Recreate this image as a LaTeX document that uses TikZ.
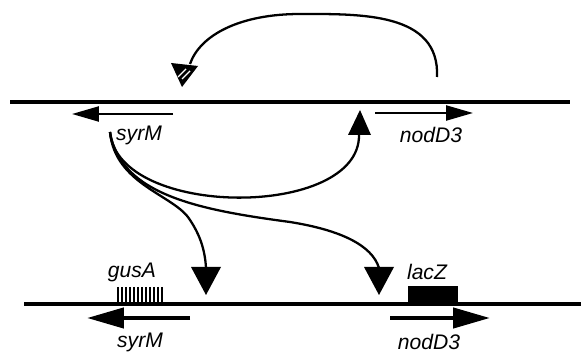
\documentclass[tikz,border=0pt]{standalone}
\usepackage{fontspec}
\setmainfont{Liberation Sans}
\usetikzlibrary{arrows.meta}
\begin{document}
\begin{tikzpicture}[x=0.02cm,y=-0.02cm,
  dna/.style={line width=2.1pt},
  reg/.style={line width=1.3pt},
  genetop/.style={line width=1.3pt,-{Triangle[length=0.54cm,width=0.3cm]}},
  genebot/.style={line width=2.5pt,-{Triangle[length=0.74cm,width=0.4cm]}},
  lbl/.style={font=\fontsize{12}{14}\selectfont\itshape,inner sep=0pt},
  head/.style={fill=black}]
\useasboundingbox (0,0) rectangle (581,354);
% DNA lines
\coordinate (t1) at (10,102); \coordinate (t2) at (570,102);
\coordinate (b1) at (24,304); \coordinate (b2) at (581,304);
\draw[dna] (t1) -- (t2);
\draw[dna] (b1) -- (b2);
% top genes
\coordinate (sa) at (173,114); \coordinate (sb) at (72,114);
\coordinate (na) at (375,113); \coordinate (nb) at (473,113);
\draw[genetop] (sa) -- (sb);
\draw[genetop] (na) -- (nb);
\node[lbl] (syrMt) at (139,135) {syrM};
\node[lbl] (nodDt) at (431,135) {nodD3};
% bottom genes
\coordinate (sc) at (190,318); \coordinate (sd) at (87,318);
\coordinate (nc) at (390,318); \coordinate (nd) at (490,318);
\draw[genebot] (sc) -- (sd);
\draw[genebot] (nc) -- (nd);
\node[lbl] (syrMb) at (140,342) {syrM};
\node[lbl] (nodDb) at (429,342) {nodD3};
\node[lbl] (gusA) at (132,272) {gusA};
\node[lbl] (lacZ) at (427,272) {lacZ};
% reporter boxes
\fill (408,286) rectangle (458,302);
\foreach \i in {0,...,11} \draw[line width=0.7pt] ({118+\i*4},287) -- ({118+\i*4},302);
% triangles
\coordinate (src) at (110,132);
\coordinate (up) at (359,135);
\fill[head] (360,110) -- (371,135) -- (348,135) -- cycle;
\coordinate (gtri) at (206,268);
\fill[head] (191,267) -- (221,267) -- (206,295) -- cycle;
\coordinate (ltri) at (379,268);
\fill[head] (364,267) -- (394,267) -- (379,295) -- cycle;
\coordinate (htri) at (190,64);
\fill[head] (171,63) -- (198,66) -- (182,87) -- cycle;
\draw[white,line width=0.8pt] (178,77) -- (186,69);
\draw[white,line width=0.8pt] (182,79) -- (190,71);
% regulatory curves
\draw[reg] (437,77) .. controls (440,12) and (360,14) .. (300,14)
  .. controls (240,14) and (200,35) .. (htri);
\draw[reg] (src) .. controls (118,219) and (360,219) .. (up);
\draw[reg] (src) .. controls (115,185) and (175,195) .. (190,220)
  .. controls (200,235) and (205,250) .. (gtri);
\draw[reg] (src) .. controls (120,195) and (200,210) .. (290,222)
  .. controls (340,230) and (372,245) .. (ltri);
\end{tikzpicture}
\end{document}
